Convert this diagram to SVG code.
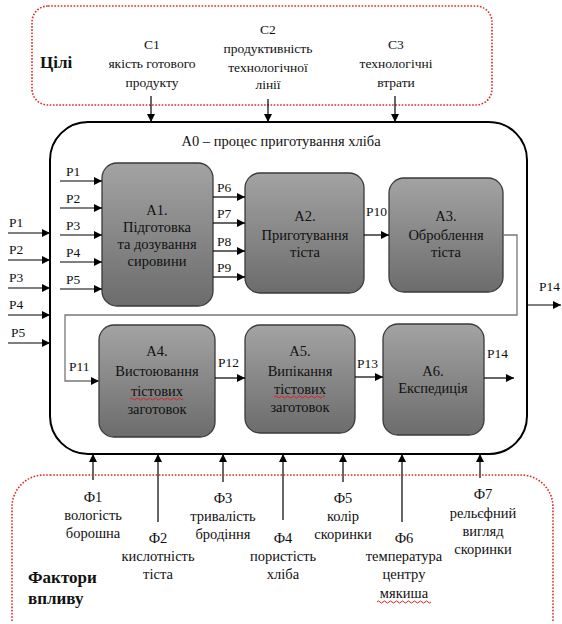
<svg xmlns="http://www.w3.org/2000/svg" width="562" height="624" viewBox="0 0 562 624" font-family="Liberation Serif, DejaVu Serif, serif">
<defs>
<linearGradient id="g" x1="0" y1="0" x2="0" y2="1">
<stop offset="0" stop-color="#a3a3a3"/>
<stop offset="1" stop-color="#6c6c6c"/>
</linearGradient>
<marker id="ah" markerWidth="8" markerHeight="8" refX="8" refY="4" orient="auto" markerUnits="userSpaceOnUse">
<path d="M0,0 L8,4 L0,8 Z" fill="#000"/>
</marker>
</defs>
<style>
text{font-family:'Liberation Serif','DejaVu Serif',serif;fill:#111;text-anchor:middle}
.t13{font-size:13.5px}
.t14{font-size:14.5px}
.f{font-size:14.5px}
.lab{font-size:13.5px;text-anchor:start}
.bold{font-weight:bold;font-size:17px;text-anchor:start}
.box{fill:url(#g);stroke:#3a3a3a;stroke-width:1.3}
.red{fill:none;stroke:#e02828;stroke-width:1.6;stroke-dasharray:1.6 1.6}
.c{fill:none;stroke:#000;stroke-width:1.2}
.cg{fill:none;stroke:#777;stroke-width:1.3}
.wave{fill:none;stroke:#e02020;stroke-width:1}
</style>

<g id="goals">
<rect class="red" x="32" y="6" width="460" height="99" rx="16"/>
<text class="bold" x="40" y="68">Цілі</text>
<text class="t13" x="152" y="49">C1</text>
<text class="t13" x="152" y="68">якість готового</text>
<text class="t13" x="152" y="87">продукту</text>
<text class="t13" x="268" y="34">C2</text>
<text class="t13" x="268" y="53">продуктивність</text>
<text class="t13" x="268" y="72">технологічної</text>
<text class="t13" x="268" y="89">лінії</text>
<text class="t13" x="396" y="49">C3</text>
<text class="t13" x="396" y="68">технологічні</text>
<text class="t13" x="396" y="87">втрати</text>
</g>

<g id="A0">
<rect x="50" y="122" width="477" height="332" rx="38" fill="none" stroke="#000" stroke-width="2"/>
<text class="t14" x="281" y="146">A0 – процес приготування хліба</text>
</g>

<g id="A1">
<rect class="box" x="102" y="163" width="111" height="143" rx="15"/>
<text class="t14" x="157" y="215">A1.</text>
<text class="t14" x="157" y="232">Підготовка</text>
<text class="t14" x="157" y="249">та дозування</text>
<text class="t14" x="157" y="266">сировини</text>
</g>
<g id="A2">
<rect class="box" x="245" y="173" width="119" height="120" rx="15"/>
<text class="t14" x="305" y="221">A2.</text>
<text class="t14" x="305" y="240">Приготування</text>
<text class="t14" x="305" y="257">тіста</text>
</g>
<g id="A3">
<rect class="box" x="389" y="178" width="114" height="114" rx="15"/>
<text class="t14" x="446" y="221">A3.</text>
<text class="t14" x="446" y="240">Оброблення</text>
<text class="t14" x="446" y="257">тіста</text>
</g>
<g id="A4">
<rect class="box" x="99" y="325" width="116" height="112" rx="15"/>
<text class="t14" x="157" y="356">A4.</text>
<text class="t14" x="157" y="376">Вистоювання</text>
<text class="t14" x="157" y="396">тістових</text>
<text class="t14" x="157" y="414">заготовок</text>
<path class="wave" d="M130,399 q1.5,-2 3,0 t3,0 t3,0 t3,0 t3,0 t3,0 t3,0 t3,0 t3,0 t3,0 t3,0 t3,0 t3,0 t3,0 t3,0 t3,0 t3,0 t2,0"/>
</g>
<g id="A5">
<rect class="box" x="245" y="325" width="110" height="108" rx="15"/>
<text class="t14" x="300" y="356">A5.</text>
<text class="t14" x="300" y="376">Випікання</text>
<text class="t14" x="300" y="394">тістових</text>
<text class="t14" x="300" y="412">заготовок</text>
<path class="wave" d="M274,397 q1.5,-2 3,0 t3,0 t3,0 t3,0 t3,0 t3,0 t3,0 t3,0 t3,0 t3,0 t3,0 t3,0 t3,0 t3,0 t3,0 t3,0 t3,0"/>
</g>
<g id="A6">
<rect class="box" x="383" y="324" width="101" height="111" rx="15"/>
<text class="t14" x="433" y="376">A6.</text>
<text class="t14" x="433" y="393">Експедиція</text>
</g>

<g id="connectors">
<line class="c" x1="151" y1="96" x2="151" y2="122" marker-end="url(#ah)"/>
<line class="c" x1="268" y1="99" x2="268" y2="122" marker-end="url(#ah)"/>
<line class="c" x1="395" y1="96" x2="395" y2="122" marker-end="url(#ah)"/>
<line class="c" x1="8" y1="233" x2="50" y2="233" marker-end="url(#ah)"/>
<line class="c" x1="8" y1="260" x2="50" y2="260" marker-end="url(#ah)"/>
<line class="c" x1="8" y1="288" x2="50" y2="288" marker-end="url(#ah)"/>
<line class="c" x1="8" y1="315" x2="50" y2="315" marker-end="url(#ah)"/>
<line class="c" x1="8" y1="343" x2="50" y2="343" marker-end="url(#ah)"/>
<line class="c" x1="60" y1="181" x2="102" y2="181" marker-end="url(#ah)"/>
<line class="c" x1="60" y1="208" x2="102" y2="208" marker-end="url(#ah)"/>
<line class="c" x1="60" y1="235" x2="102" y2="235" marker-end="url(#ah)"/>
<line class="c" x1="60" y1="262" x2="102" y2="262" marker-end="url(#ah)"/>
<line class="c" x1="60" y1="289" x2="102" y2="289" marker-end="url(#ah)"/>
<line class="c" x1="213" y1="197" x2="245" y2="197" marker-end="url(#ah)"/>
<line class="c" x1="213" y1="223" x2="245" y2="223" marker-end="url(#ah)"/>
<line class="c" x1="213" y1="251" x2="245" y2="251" marker-end="url(#ah)"/>
<line class="c" x1="213" y1="277" x2="245" y2="277" marker-end="url(#ah)"/>
<line class="c" x1="364" y1="235" x2="389" y2="235" marker-end="url(#ah)"/>
<path class="cg" d="M503,235 H517 V315 H65 V381 H99"/>
<path d="M91,377 L99,381 L91,385 Z" fill="#000"/>
<line class="c" x1="215" y1="378" x2="245" y2="378" marker-end="url(#ah)"/>
<line class="c" x1="355" y1="377" x2="383" y2="377" marker-end="url(#ah)"/>
<line class="c" x1="484" y1="378" x2="514" y2="378" marker-end="url(#ah)"/>
<line class="c" x1="527" y1="305" x2="561" y2="305" marker-end="url(#ah)"/>
<line class="c" x1="93" y1="480" x2="93" y2="454" marker-end="url(#ah)"/>
<line class="c" x1="158" y1="522" x2="158" y2="454" marker-end="url(#ah)"/>
<line class="c" x1="223" y1="482" x2="223" y2="454" marker-end="url(#ah)"/>
<line class="c" x1="283" y1="520" x2="283" y2="454" marker-end="url(#ah)"/>
<line class="c" x1="343" y1="482" x2="343" y2="454" marker-end="url(#ah)"/>
<line class="c" x1="402" y1="522" x2="402" y2="454" marker-end="url(#ah)"/>
<line class="c" x1="480" y1="478" x2="480" y2="454" marker-end="url(#ah)"/>
</g>

<g id="labels">
<text class="lab" x="9" y="227">P1</text>
<text class="lab" x="9" y="254">P2</text>
<text class="lab" x="9" y="282">P3</text>
<text class="lab" x="9" y="309">P4</text>
<text class="lab" x="11" y="337">P5</text>
<text class="lab" x="66" y="176">P1</text>
<text class="lab" x="66" y="203">P2</text>
<text class="lab" x="66" y="230">P3</text>
<text class="lab" x="66" y="257">P4</text>
<text class="lab" x="66" y="284">P5</text>
<text class="lab" x="217" y="192">P6</text>
<text class="lab" x="217" y="218">P7</text>
<text class="lab" x="217" y="246">P8</text>
<text class="lab" x="217" y="272">P9</text>
<text class="lab" x="366" y="216">P10</text>
<text class="lab" x="69" y="371">P11</text>
<text class="lab" x="218" y="367">P12</text>
<text class="lab" x="357" y="368">P13</text>
<text class="lab" x="487" y="358">P14</text>
<text class="lab" x="539" y="291">P14</text>
</g>

<g id="factors">
<path class="red" d="M50,475 H521 A32,32 0 0 1 553,507 V621 M12,621 V507 A32,32 0 0 1 44,475 H50"/>
<text class="bold" x="28" y="583">Фактори</text>
<text class="bold" x="28" y="604">впливу</text>
<text class="f" x="93" y="502">Ф1</text>
<text class="f" x="93" y="520">вологість</text>
<text class="f" x="93" y="538">борошна</text>
<text class="f" x="158" y="543">Ф2</text>
<text class="f" x="158" y="561">кислотність</text>
<text class="f" x="158" y="579">тіста</text>
<text class="f" x="223" y="503">Ф3</text>
<text class="f" x="223" y="521">тривалість</text>
<text class="f" x="223" y="539">бродіння</text>
<text class="f" x="283" y="543">Ф4</text>
<text class="f" x="283" y="561">пористість</text>
<text class="f" x="283" y="579">хліба</text>
<text class="f" x="343" y="503">Ф5</text>
<text class="f" x="343" y="521">колір</text>
<text class="f" x="343" y="539">скоринки</text>
<text class="f" x="404" y="543">Ф6</text>
<text class="f" x="404" y="561">температура</text>
<text class="f" x="404" y="579">центру</text>
<text class="f" x="404" y="598">мякиша</text>
<path class="wave" d="M377,602 q1.5,-2 3,0 t3,0 t3,0 t3,0 t3,0 t3,0 t3,0 t3,0 t3,0 t3,0 t3,0 t3,0 t3,0 t3,0 t3,0 t3,0 t3,0 t3,0"/>
<text class="f" x="483" y="499">Ф7</text>
<text class="f" x="483" y="518">рельєфний</text>
<text class="f" x="483" y="536">вигляд</text>
<text class="f" x="483" y="554">скоринки</text>
</g>
</svg>
